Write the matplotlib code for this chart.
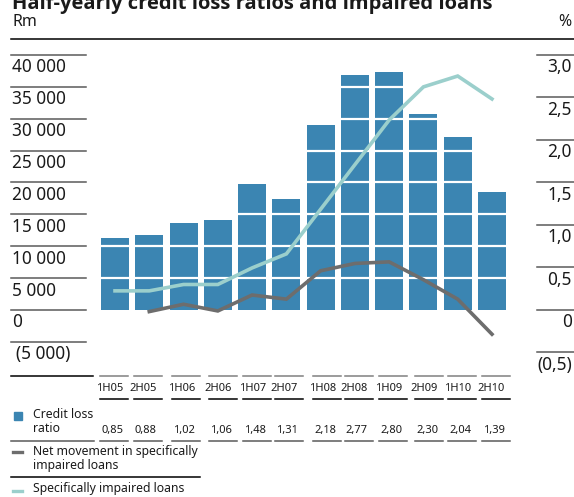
import matplotlib
matplotlib.use("Agg")
import matplotlib.pyplot as plt
import matplotlib.transforms as mtransforms
from matplotlib.lines import Line2D
from matplotlib.patches import Rectangle
import numpy as np

# half-year periods
periods = ['1H05', '2H05', '1H06', '2H06', '1H07', '2H07',
           '1H08', '2H08', '1H09', '2H09', '1H10', '2H10']

# credit loss ratio (%)
credit_loss_ratio = [0.85, 0.88, 1.02, 1.06, 1.48, 1.31,
                     2.18, 2.77, 2.80, 2.30, 2.04, 1.39]
credit_loss_labels = ['0,85', '0,88', '1,02', '1,06', '1,48', '1,31',
                      '2,18', '2,77', '2,80', '2,30', '2,04', '1,39']

# net movement in specifically impaired loans (Rm), none for 1H05
net_movement = [np.nan, -250, 900, -150, 2350, 1700,
                6150, 7300, 7550, 4750, 1700, -3800]

# specifically impaired loans (Rm)
impaired_loans = [3000, 3000, 4000, 4000, 6600, 8800,
                  15800, 22800, 29800, 35000, 36700, 33100]

rm_ticks = [40000, 35000, 30000, 25000, 20000, 15000, 10000, 5000, 0, -5000]
rm_labels = ['40 000', '35 000', '30 000', '25 000', '20 000', '15 000',
             '10 000', '5 000', '0', '(5 000)']
pct_ticks = [3.0, 2.5, 2.0, 1.5, 1.0, 0.5, 0, -0.5]
pct_labels = ['3,0', '2,5', '2,0', '1,5', '1,0', '0,5', '0', '(0,5)']

BAR_BLUE = '#3b85b2'
TEAL = '#9bcfcc'
GREY = '#6d6d6d'
RULE = '#5a5a5a'

W, H = 574, 497
plt.rcParams['font.family'] = ['Noto Sans', 'DejaVu Sans']
NARROW = ['Liberation Sans Narrow', 'Noto Sans']


def fx(px):
    return px / W


def fy(py):
    return 1 - py / H


fig = plt.figure(figsize=(W / 100, H / 100), dpi=100)

# plot area: 95..512 px wide, value 0 at y=310 px, 40 000 / 3,0 at y=55 px
ax_l, ax_r, ax_t, ax_b = 95, 512, 55, 357.8
ax = fig.add_axes([fx(ax_l), fy(ax_b), (ax_r - ax_l) / W, (ax_b - ax_t) / H])
ax_rm = ax.twinx()

x = np.arange(len(periods))
ax.set_xlim(-0.584, len(periods) - 1 + 0.584)
ax.set_ylim(-0.5625, 3.0)
ax_rm.set_ylim(-7500, 40000)

for a in (ax, ax_rm):
    a.set_facecolor('none')
    for s in a.spines.values():
        s.set_visible(False)
    a.set_xticks([])
    a.set_yticks([])

ax.bar(x, credit_loss_ratio, width=0.817, color=BAR_BLUE, zorder=2)

# white rules across the bars at each 5 000
for v in range(5000, 40000, 5000):
    ax_rm.axhline(v, color='white', lw=1.6, zorder=1)

ax_rm.plot(x, impaired_loans, color=TEAL, lw=2.6, zorder=3,
           solid_joinstyle='miter')
ax_rm.plot(x, net_movement, color=GREY, lw=2.6, zorder=4,
           solid_joinstyle='miter')

# left scale (Rm)
axw = ax_r - ax_l
tr_l = ax_rm.get_yaxis_transform()
tr_l_txt = mtransforms.offset_copy(tr_l, fig=fig, y=-17.5, units='dots')
for v, lab in zip(rm_ticks, rm_labels):
    ax_rm.plot([(11 - ax_l) / axw, (86 - ax_l) / axw], [v, v], transform=tr_l,
               color=RULE, lw=1.1, clip_on=False)
    xt = 16 if lab.startswith('(') else 12
    ax_rm.text((xt - ax_l) / axw, v, lab, transform=tr_l_txt, ha='left',
               va='baseline', fontsize=12.4, color='#1a1a1a')

# right scale (%)
tr_r = ax.get_yaxis_transform()
tr_r_txt = mtransforms.offset_copy(tr_r, fig=fig, y=-17.5, units='dots')
for v, lab in zip(pct_ticks, pct_labels):
    ax.plot([(537 - ax_l) / axw, (574 - ax_l) / axw], [v, v], transform=tr_r,
            color=RULE, lw=1.1, clip_on=False)
    ax.text((572 - ax_l) / axw, v, lab, transform=tr_r_txt, ha='right',
            va='baseline', fontsize=12.4, color='#1a1a1a')

# title and unit captions
fig.text(fx(12), fy(9), 'Half-yearly credit loss ratios and impaired loans',
         family=['Open Sans', 'Lato', 'DejaVu Sans'], fontsize=14.5,
         fontweight='bold', va='baseline', color='#1a1a1a')
fig.text(fx(12), fy(26), 'Rm', fontsize=11.5, va='baseline', color='#1a1a1a')
fig.text(fx(571), fy(26), '%', fontsize=11.5, va='baseline', ha='right',
         color='#1a1a1a')
fig.add_artist(Line2D([fx(11), fx(574)], [fy(39.3), fy(39.3)],
                      color='black', lw=1.1))

# data table underneath
col_start = [100, 134, 172, 209, 243, 275, 313, 345, 379, 415, 448, 482]
col_w = 28


def hrule(x0, x1, y, color='black'):
    fig.add_artist(Line2D([fx(x0), fx(x1)], [fy(y), fy(y)], color=color, lw=1.1))


hrule(11, 93, 376)
hrule(11, 94, 441, RULE)
hrule(11, 200, 477)
for c0, per, lab in zip(col_start, periods, credit_loss_labels):
    hrule(c0, c0 + col_w, 376, '#808080')
    hrule(c0, c0 + col_w, 399)
    hrule(c0, c0 + col_w, 441, RULE)
    fig.text(fx(c0 + 23), fy(391), per, family=NARROW, fontsize=8,
             ha='right', va='baseline', color='#1a1a1a')
    fig.text(fx(c0 + 23), fy(433), lab, family=NARROW, fontsize=8,
             ha='right', va='baseline', color='#1a1a1a')

# legend entries
fig.add_artist(Rectangle((fx(14), fy(420)), 8 / W, 8 / H, color=BAR_BLUE,
                         transform=fig.transFigure))
fig.add_artist(Line2D([fx(13), fx(22)], [fy(451.7), fy(451.7)], color=GREY, lw=2.4))
fig.add_artist(Line2D([fx(13), fx(22)], [fy(490.7), fy(490.7)], color=TEAL, lw=2.4))
leg_kw = dict(fontsize=8.8, va='baseline', color='#1a1a1a')
fig.text(fx(33), fy(417.5), 'Credit loss', **leg_kw)
fig.text(fx(33), fy(432.5), 'ratio', **leg_kw)
fig.text(fx(33), fy(455.5), 'Net movement in specifically', **leg_kw)
fig.text(fx(33), fy(469.5), 'impaired loans', **leg_kw)
fig.text(fx(33), fy(492), 'Specifically impaired loans', **leg_kw)

fig.savefig('out.png', dpi=100)
